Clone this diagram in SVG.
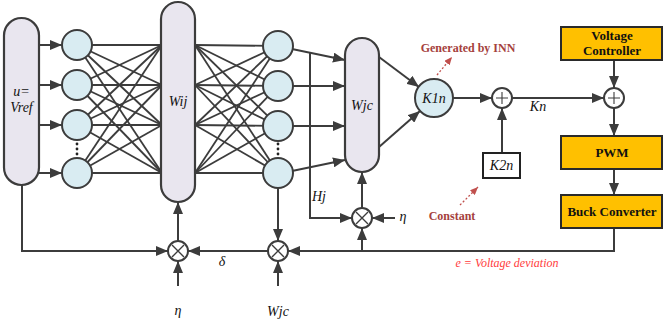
<svg xmlns="http://www.w3.org/2000/svg" width="663" height="324" viewBox="0 0 663 324">
<style>
.ln{stroke:#3c3c3c;stroke-width:1.8;fill:none}
.ar{stroke:#3c3c3c;stroke-width:2;fill:none;marker-end:url(#ah)}
.pill{fill:#e9e6ef;stroke:#3c3c3c;stroke-width:2.2}
.neu{fill:#d9ecf2;stroke:#3c3c3c;stroke-width:2}
.op{fill:#fff;stroke:#3c3c3c;stroke-width:2}
.box{fill:#ffc000;stroke:#2a2a2a;stroke-width:2}
.it{font-family:"Liberation Serif","Times New Roman",serif;font-style:italic;font-size:14px;fill:#111;text-anchor:middle}
.bd{font-family:"Liberation Serif","Times New Roman",serif;font-weight:bold;font-size:13px;fill:#111;text-anchor:middle}
.note{font-family:"Liberation Serif","Times New Roman",serif;font-weight:bold;font-size:12px;fill:#a5413d;text-anchor:middle}
.red{font-family:"Liberation Serif","Times New Roman",serif;font-style:italic;font-size:12px;fill:#ff3b3b;text-anchor:middle}
.dot{stroke:#c0504d;stroke-width:1.3;stroke-dasharray:2 2;fill:none;marker-end:url(#dh)}
</style>
<defs>
<marker id="ah" markerUnits="userSpaceOnUse" markerWidth="12" markerHeight="10" refX="12" refY="5" orient="auto"><path d="M0,0 L12,5 L0,10 z" fill="#3c3c3c"/></marker>
<marker id="dh" markerUnits="userSpaceOnUse" markerWidth="8" markerHeight="7" refX="8" refY="3.5" orient="auto"><path d="M0,0 L8,3.5 L0,7 z" fill="#c0504d"/></marker>
</defs>
<g id="connectors">
<line class="ar" x1="39" y1="45" x2="62" y2="45"/>
<line class="ar" x1="39" y1="85" x2="62" y2="85"/>
<line class="ar" x1="39" y1="125" x2="62" y2="125"/>
<line class="ar" x1="39" y1="173" x2="62" y2="173"/>
<g class="ln">
<line x1="77" y1="45" x2="162" y2="45"/><line x1="77" y1="45" x2="162" y2="85"/><line x1="77" y1="45" x2="162" y2="125"/><line x1="77" y1="45" x2="162" y2="173"/>
<line x1="77" y1="85" x2="162" y2="45"/><line x1="77" y1="85" x2="162" y2="85"/><line x1="77" y1="85" x2="162" y2="125"/><line x1="77" y1="85" x2="162" y2="173"/>
<line x1="77" y1="125" x2="162" y2="45"/><line x1="77" y1="125" x2="162" y2="85"/><line x1="77" y1="125" x2="162" y2="125"/><line x1="77" y1="125" x2="162" y2="173"/>
<line x1="77" y1="173" x2="162" y2="45"/><line x1="77" y1="173" x2="162" y2="85"/><line x1="77" y1="173" x2="162" y2="125"/><line x1="77" y1="173" x2="162" y2="173"/>
<line x1="195" y1="45" x2="278" y2="46"/><line x1="195" y1="45" x2="278" y2="86"/><line x1="195" y1="45" x2="278" y2="126"/><line x1="195" y1="45" x2="278" y2="173"/>
<line x1="195" y1="85" x2="278" y2="46"/><line x1="195" y1="85" x2="278" y2="86"/><line x1="195" y1="85" x2="278" y2="126"/><line x1="195" y1="85" x2="278" y2="173"/>
<line x1="195" y1="125" x2="278" y2="46"/><line x1="195" y1="125" x2="278" y2="86"/><line x1="195" y1="125" x2="278" y2="126"/><line x1="195" y1="125" x2="278" y2="173"/>
<line x1="195" y1="173" x2="278" y2="46"/><line x1="195" y1="173" x2="278" y2="86"/><line x1="195" y1="173" x2="278" y2="126"/><line x1="195" y1="173" x2="278" y2="173"/>
</g>
<line class="ar" x1="292" y1="49" x2="345" y2="60"/>
<line class="ar" x1="293" y1="86" x2="345" y2="86"/>
<line class="ar" x1="293" y1="126" x2="345" y2="126"/>
<line class="ar" x1="292" y1="171" x2="345" y2="160"/>
<polyline class="ar" points="310,53 310,218 352,218"/>
<line class="ar" x1="379" y1="57" x2="419" y2="87"/>
<line class="ar" x1="379" y1="147" x2="420" y2="111"/>
<line class="ar" x1="453" y1="98" x2="492" y2="98"/>
<line class="ar" x1="502" y1="153" x2="502" y2="108"/>
<line class="ar" x1="512" y1="98" x2="604" y2="98"/>
<line class="ar" x1="614" y1="60" x2="614" y2="88"/>
<line class="ar" x1="614" y1="108" x2="614" y2="136"/>
<line class="ar" x1="614" y1="169" x2="614" y2="195"/>
<polyline class="ar" points="614,228 614,251 288,251"/>
<line class="ar" x1="362" y1="251" x2="362" y2="228"/>
<line class="ar" x1="362" y1="208" x2="362" y2="172"/>
<line class="ar" x1="395" y1="218" x2="372" y2="218"/>
<line class="ar" x1="268" y1="251" x2="188" y2="251"/>
<line class="ar" x1="278" y1="188" x2="278" y2="241"/>
<line class="ar" x1="278" y1="286" x2="278" y2="261"/>
<polyline class="ar" points="22,185 22,251 168,251"/>
<line class="ar" x1="178" y1="241" x2="178" y2="202"/>
<line class="ar" x1="178" y1="286" x2="178" y2="261"/>
<line class="dot" x1="437" y1="75" x2="452" y2="57"/>
<line class="dot" x1="460" y1="205" x2="478" y2="187"/>
</g>
<g id="input">
<rect class="pill" x="4" y="18" width="35" height="167" rx="17.5"/>
<text class="it" x="21.5" y="96">u=</text>
<text class="it" x="21.5" y="112">Vref</text>
</g>
<g id="layer1">
<circle class="neu" cx="77" cy="45" r="15"/>
<circle class="neu" cx="77" cy="85" r="15"/>
<circle class="neu" cx="77" cy="125" r="15"/>
<circle class="neu" cx="77" cy="173" r="15"/>
<g fill="#222"><circle cx="77" cy="144" r="1.4"/><circle cx="77" cy="149" r="1.4"/><circle cx="77" cy="154" r="1.4"/></g>
</g>
<g id="wij">
<rect class="pill" x="161" y="2" width="34" height="200" rx="17"/>
<text class="it" x="178" y="106">Wij</text>
</g>
<g id="layer2">
<circle class="neu" cx="278" cy="46" r="15"/>
<circle class="neu" cx="278" cy="86" r="15"/>
<circle class="neu" cx="278" cy="126" r="15"/>
<circle class="neu" cx="278" cy="173" r="15"/>
<g fill="#222"><circle cx="278" cy="144" r="1.4"/><circle cx="278" cy="149" r="1.4"/><circle cx="278" cy="154" r="1.4"/></g>
</g>
<g id="wjc">
<rect class="pill" x="345" y="38" width="34" height="134" rx="17"/>
<text class="it" x="362" y="110">Wjc</text>
</g>
<g id="k1n">
<circle class="neu" cx="434" cy="98" r="19"/>
<text class="it" x="434" y="103">K1n</text>
</g>
<g id="sum1">
<circle class="op" cx="502" cy="98" r="10"/>
<path d="M496,98 H508 M502,92 V104" stroke="#3c3c3c" stroke-width="1.1" fill="none"/>
</g>
<g id="k2n">
<rect x="483" y="153" width="37" height="25" fill="#fff" stroke="#222" stroke-width="2"/>
<text class="it" x="501.5" y="170">K2n</text>
</g>
<g id="sum2">
<circle class="op" cx="614" cy="98" r="10"/>
<path d="M608,98 H620 M614,92 V104" stroke="#3c3c3c" stroke-width="1.1" fill="none"/>
</g>
<g id="voltage-controller">
<rect class="box" x="561" y="27" width="101" height="33"/>
<text class="bd" x="612" y="40">Voltage</text>
<text class="bd" x="612" y="55">Controller</text>
</g>
<g id="pwm">
<rect class="box" x="561" y="136" width="101" height="33"/>
<text class="bd" x="612" y="157">PWM</text>
</g>
<g id="buck">
<rect class="box" x="561" y="195" width="101" height="33"/>
<text class="bd" x="612" y="216">Buck Converter</text>
</g>
<g id="mul-hj">
<circle class="op" cx="362" cy="218" r="10"/>
<path d="M356,212 L368,224 M368,212 L356,224" stroke="#3c3c3c" stroke-width="1.4" fill="none"/>
</g>
<g id="mul-right">
<circle class="op" cx="278" cy="251" r="10"/>
<path d="M272,245 L284,257 M284,245 L272,257" stroke="#3c3c3c" stroke-width="1.4" fill="none"/>
</g>
<g id="mul-left">
<circle class="op" cx="178" cy="251" r="10"/>
<path d="M172,245 L184,257 M184,245 L172,257" stroke="#3c3c3c" stroke-width="1.4" fill="none"/>
</g>
<g id="labels">
<text class="it" x="319" y="201" font-size="13">Hj</text>
<text class="it" x="403" y="221" font-size="13">η</text>
<text class="it" x="222" y="266" font-size="13">δ</text>
<text class="it" x="178" y="315" font-size="13">η</text>
<text class="it" x="278" y="316" font-size="13">Wjc</text>
<text class="it" x="538" y="111">Kn</text>
<text class="note" x="468" y="52">Generated by INN</text>
<text class="note" x="452" y="220">Constant</text>
<text class="red" x="507" y="267">e = Voltage deviation</text>
</g>
</svg>
